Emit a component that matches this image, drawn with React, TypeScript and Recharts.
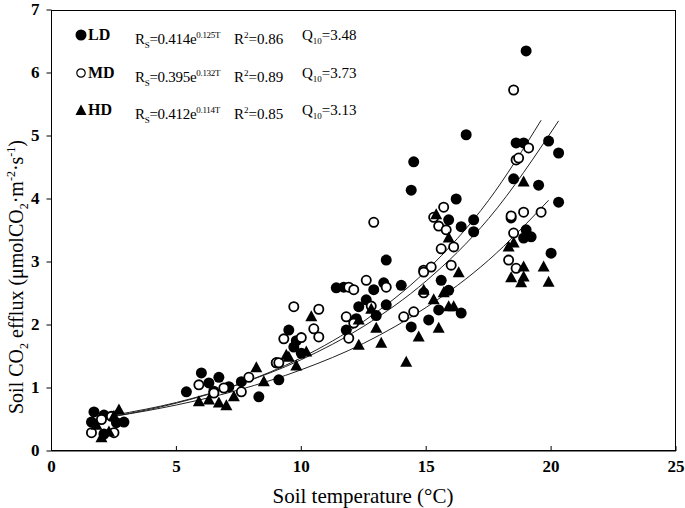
import React from "react";
import { ComposedChart, Scatter, Line, XAxis, YAxis } from "recharts";

// soil temperature (°C), soil CO2 efflux
const ldPoints: [number, number][] = [
  [1.7, 0.62], [1.6, 0.46], [2.1, 0.57], [2.9, 0.46], [2.1, 0.27], [2.6, 0.45],
  [5.4, 0.94], [6.0, 1.24], [6.7, 1.17], [7.6, 1.1], [8.3, 0.86], [9.1, 1.13], [6.3, 1.08], [7.1, 1.02], [6.5, 0.95],
  [9.5, 1.92], [9.0, 1.4], [9.7, 1.65], [10.0, 1.55], [11.4, 2.59], [9.8, 1.75],
  [11.7, 2.6], [12.9, 2.56], [13.4, 3.03], [13.3, 2.67], [14.0, 2.63], [13.4, 2.32], [12.3, 2.29], [11.8, 1.92],
  [14.4, 1.97], [15.1, 2.08], [15.5, 2.24], [12.6, 2.4], [13.0, 2.15], [12.2, 2.1],
  [14.5, 4.59], [14.4, 4.14], [16.6, 5.02], [16.2, 4.0], [15.9, 3.67], [16.4, 3.56], [16.9, 3.67], [16.9, 3.48],
  [15.6, 2.71], [16.4, 2.19], [15.9, 2.55],
  [19.0, 6.35], [18.6, 4.89], [18.9, 4.89], [19.9, 4.92], [20.3, 4.73], [18.5, 4.32], [19.5, 4.22], [20.3, 3.95],
  [19.0, 3.51], [20.0, 3.14], [18.4, 3.7], [18.9, 3.38], [19.2, 3.4],
];
const mdPoints: [number, number][] = [
  [1.6, 0.29], [2.5, 0.29], [2.0, 0.5], [2.4, 0.55],
  [5.9, 1.05], [7.9, 1.17], [9.0, 1.4], [7.6, 0.94], [6.5, 0.92], [6.9, 1.0],
  [9.7, 2.29], [10.7, 2.25], [10.5, 1.94], [9.3, 1.78], [10.7, 1.81], [9.1, 1.4], [10.0, 1.8],
  [12.9, 3.63], [11.9, 2.6], [12.6, 2.71], [12.1, 2.56], [11.8, 2.13], [12.1, 2.03], [11.9, 1.79], [14.1, 2.13],
  [14.9, 2.87], [15.2, 2.92], [13.4, 2.6], [12.8, 2.3],
  [15.7, 3.87], [15.3, 3.71], [15.5, 3.57], [15.8, 3.51], [15.6, 3.21], [16.1, 3.24], [16.0, 2.95], [14.9, 2.84],
  [14.9, 2.51], [14.5, 2.21],
  [18.5, 5.73], [19.1, 4.81], [18.6, 4.62], [18.7, 4.65], [18.9, 3.79], [19.6, 3.79], [18.4, 3.73], [18.5, 3.46],
  [18.3, 3.03], [18.6, 2.9],
];
const hdPoints: [number, number][] = [
  [2.7, 0.65], [2.0, 0.21], [1.8, 0.41], [2.3, 0.3], [2.5, 0.55],
  [5.9, 0.78], [6.7, 0.76], [7.3, 0.86], [8.2, 1.32], [9.4, 1.52], [8.5, 1.1], [6.3, 0.81], [7.0, 0.72],
  [10.4, 2.13], [9.5, 1.49], [10.2, 1.57], [9.8, 1.35],
  [12.3, 1.68], [13.2, 1.71], [14.2, 1.41], [14.7, 1.81], [15.5, 1.95], [12.3, 2.08], [15.9, 2.29], [13.0, 1.95], [12.8, 2.25],
  [15.4, 3.75], [15.9, 3.38], [16.3, 2.83], [16.1, 2.29], [15.7, 2.51], [15.3, 2.4], [14.9, 2.55],
  [18.9, 4.27], [19.7, 2.92], [19.9, 2.68], [18.4, 2.75], [18.8, 2.67], [18.9, 2.76], [18.9, 2.92], [18.3, 3.24], [18.5, 3.3],
];

// fitted curves, sampled off the figure
const ldFitT = [2.5, 5, 7.5, 10, 12.5, 15, 17.5, 20.3];
const ldFitR = [0.57, 0.77, 1.06, 1.45, 1.98, 2.7, 3.69, 5.24];
const mdFitT = [2.5, 5, 7.5, 10, 12.5, 15, 17.5, 19.6];
const mdFitR = [0.55, 0.76, 1.06, 1.48, 2.06, 2.86, 3.98, 5.25];
const hdFitT = [2.5, 5, 7.5, 10, 12.5, 15, 17.5, 19.9];
const hdFitR = [0.55, 0.73, 0.97, 1.29, 1.71, 2.28, 3.03, 3.98];

const xTicks = [0, 5, 10, 15, 20, 25];
const yTicks = [0, 1, 2, 3, 4, 5, 6, 7];

const legendNames = ["LD", "MD", "HD"];
const legendA = ["0.414", "0.395", "0.412"];
const legendB = ["0.125T", "0.132T", "0.114T"];
const legendR2 = ["0.86", "0.89", "0.85"];
const legendQ10 = ["3.48", "3.73", "3.13"];

const toXY = (pts: [number, number][]) => pts.map(([t, r]) => ({ t, r }));
const toFit = (ts: number[], rs: number[]) => ts.map((t, i) => ({ t, r: rs[i] }));

const font = "'Liberation Serif', 'Times New Roman', serif";

const FilledDot = (p: any) => <circle cx={p.cx} cy={p.cy} r={5.5} fill="#000" />;
const OpenDot = (p: any) => (
  <circle cx={p.cx} cy={p.cy} r={4.6} fill="#fff" stroke="#000" strokeWidth={1.8} />
);
const Tri = (p: any) => (
  <polygon
    points={`${p.cx},${p.cy - 6.5} ${p.cx - 6},${p.cy + 4.5} ${p.cx + 6},${p.cy + 4.5}`}
    fill="#000"
  />
);

const XTick = (p: any) => (
  <g>
    <line x1={p.x} x2={p.x} y1={p.y} y2={p.y - 5} stroke="#000" />
    <text x={p.x} y={p.y + 21} textAnchor="middle" fontFamily={font} fontSize={17} fontWeight="bold" fill="#000">
      {p.payload.value}
    </text>
  </g>
);
const YTick = (p: any) => (
  <g>
    <line x1={p.x} x2={p.x - 5} y1={p.y} y2={p.y} stroke="#000" />
    <text x={p.x - 12} y={p.y + 5} textAnchor="end" fontFamily={font} fontSize={17} fontWeight="bold" fill="#000">
      {p.payload.value}
    </text>
  </g>
);

const LegendSymbol = ({ i }: { i: number }) => (
  <svg width={14} height={14} style={{ position: "absolute", left: 74, top: 3 }}>
    {i === 0 && <circle cx={7} cy={7} r={5.5} fill="#000" />}
    {i === 1 && <circle cx={7} cy={7} r={4.2} fill="#fff" stroke="#000" strokeWidth={1.2} />}
    {i === 2 && <polygon points="7,1.5 1.5,12 12.5,12" fill="#000" />}
  </svg>
);

const rowTops = [25, 63, 100];

export default function App() {
  return (
    <div style={{ position: "absolute", left: 0, top: 0, width: 685, height: 508, background: "#fff", fontFamily: font }}>
      <ComposedChart width={685} height={508} margin={{ top: 10, right: 9, left: 11.5, bottom: 27 }}>
        <XAxis
          dataKey="t"
          type="number"
          domain={[0, 25]}
          ticks={xTicks}
          height={30}
          tickSize={0}
          tickMargin={0}
          tickLine={false}
          tick={<XTick />}
          axisLine={{ stroke: "#000" }}
          allowDuplicatedCategory={false}
        />
        <YAxis
          dataKey="r"
          type="number"
          domain={[0, 7]}
          ticks={yTicks}
          width={40}
          tickSize={0}
          tickMargin={0}
          tickLine={false}
          tick={<YTick />}
          axisLine={{ stroke: "#000" }}
        />
        <Scatter data={toXY(ldPoints)} dataKey="r" shape={<FilledDot />} isAnimationActive={false} />
        <Scatter data={toXY(mdPoints)} dataKey="r" shape={<OpenDot />} isAnimationActive={false} />
        <Scatter data={toXY(hdPoints)} dataKey="r" shape={<Tri />} isAnimationActive={false} />
        <Line data={toFit(ldFitT, ldFitR)} dataKey="r" type="monotone" stroke="#222" strokeWidth={1} dot={false} isAnimationActive={false} />
        <Line data={toFit(mdFitT, mdFitR)} dataKey="r" type="monotone" stroke="#222" strokeWidth={1} dot={false} isAnimationActive={false} />
        <Line data={toFit(hdFitT, hdFitR)} dataKey="r" type="monotone" stroke="#222" strokeWidth={1} dot={false} isAnimationActive={false} />
      </ComposedChart>

      <div style={{ position: "absolute", left: 51, top: 10, width: 625, height: 441, border: "1px solid #000", boxSizing: "border-box", pointerEvents: "none" }} />

      {legendNames.map((n, i) => (
        <div key={n} style={{ position: "absolute", left: 0, top: rowTops[i], width: 400, height: 20, fontSize: 16, lineHeight: "20px", color: "#000" }}>
          <LegendSymbol i={i} />
          <span style={{ position: "absolute", left: 88, top: 0, fontWeight: "bold" }}>{n}</span>
          <span style={{ position: "absolute", left: 135, top: 0, whiteSpace: "nowrap", fontSize: 15, letterSpacing: -0.3 }}>
            R<sub style={{ fontSize: 9 }}>S</sub>={legendA[i]}e<sup style={{ fontSize: 9 }}>{legendB[i]}</sup>
          </span>
          <span style={{ position: "absolute", left: 234, top: 0, whiteSpace: "nowrap", fontSize: 15 }}>
            R<sup style={{ fontSize: 9 }}>2</sup>={legendR2[i]}
          </span>
          <span style={{ position: "absolute", left: 302, top: 0, whiteSpace: "nowrap", fontSize: 15 }}>
            Q<sub style={{ fontSize: 9 }}>10</sub>={legendQ10[i]}
          </span>
        </div>
      ))}

      <div style={{ position: "absolute", left: 18, top: 277, transform: "translate(-50%, -50%) rotate(-90deg)", whiteSpace: "nowrap", fontSize: 20, color: "#000" }}>
        Soil CO<sub style={{ fontSize: 12 }}>2</sub> efflux (μmolCO<sub style={{ fontSize: 12 }}>2</sub>·m<sup style={{ fontSize: 12 }}>-2</sup>·s<sup style={{ fontSize: 12 }}>-1</sup>)
      </div>
      <div style={{ position: "absolute", left: 363, top: 496, transform: "translate(-50%, -50%)", whiteSpace: "nowrap", fontSize: 21, color: "#000" }}>
        Soil temperature (°C)
      </div>
    </div>
  );
}
